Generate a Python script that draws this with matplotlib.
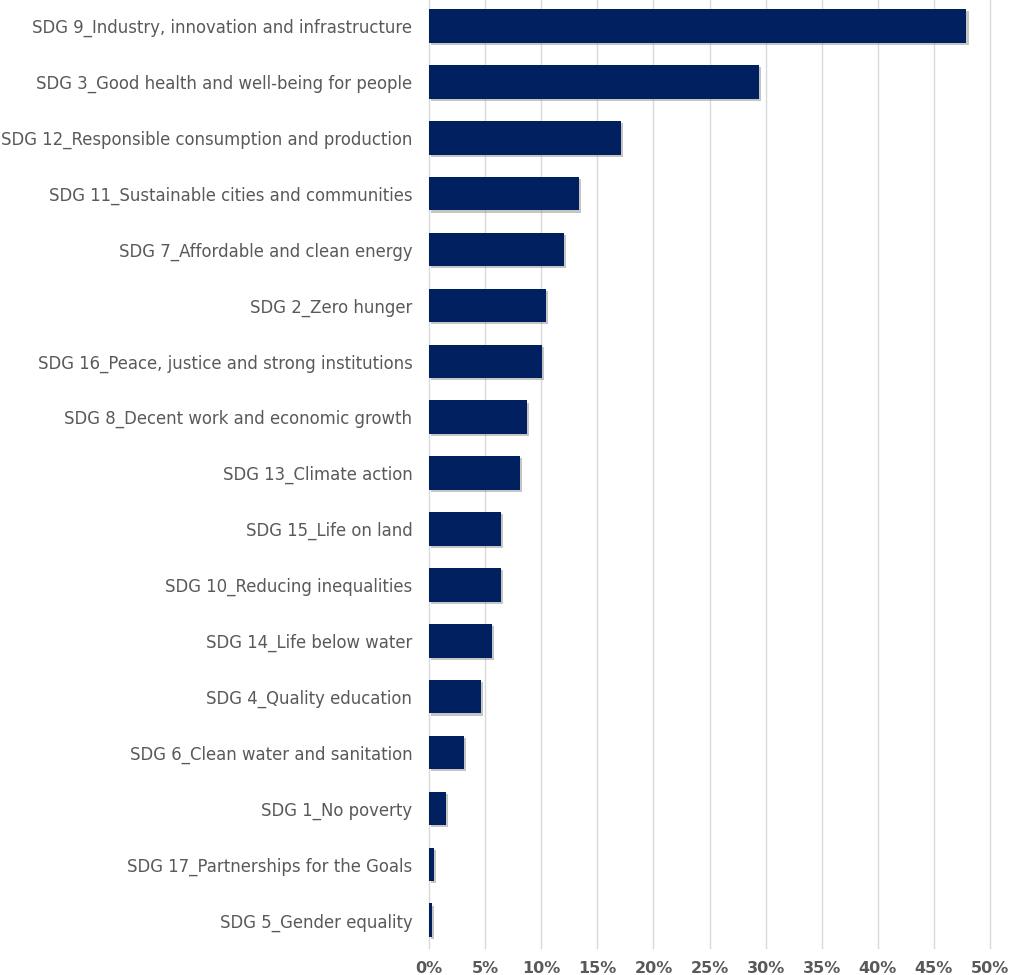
import matplotlib
matplotlib.use("Agg")
import matplotlib.pyplot as plt
import matplotlib.patheffects as pe
from matplotlib.ticker import PercentFormatter

# SDG shares, top to bottom as in the chart
categories = [
    "SDG 9_Industry, innovation and infrastructure",
    "SDG 3_Good health and well-being for people",
    "SDG 12_Responsible consumption and production",
    "SDG 11_Sustainable cities and communities",
    "SDG 7_Affordable and clean energy",
    "SDG 2_Zero hunger",
    "SDG 16_Peace, justice and strong institutions",
    "SDG 8_Decent work and economic growth",
    "SDG 13_Climate action",
    "SDG 15_Life on land",
    "SDG 10_Reducing inequalities",
    "SDG 14_Life below water",
    "SDG 4_Quality education",
    "SDG 6_Clean water and sanitation",
    "SDG 1_No poverty",
    "SDG 17_Partnerships for the Goals",
    "SDG 5_Gender equality",
]
shares = [47.9, 29.4, 17.1, 13.4, 12.0, 10.4, 10.1, 8.7, 8.1,
          6.4, 6.4, 5.6, 4.6, 3.15, 1.5, 0.45, 0.25]
xticks = list(range(0, 55, 5))

text_grey = "#595959"
bar_blue = "#002060"

plt.rcParams.update({"font.family": "DejaVu Sans", "font.size": 11})

fig = plt.figure(figsize=(10.09, 9.75), dpi=100)
ax = fig.add_axes([0.4252, 0.0275, 0.5560, 0.9745])

ypos = list(range(len(categories)))
bars = ax.barh(ypos, shares, height=0.6, color=bar_blue, zorder=3)
for b in bars:
    b.set_path_effects([pe.SimplePatchShadow(offset=(1.5, -1.5), shadow_rgbFace="#8c8c8c", alpha=0.5),
                        pe.Normal()])

ax.set_yticks(ypos)
ax.set_yticklabels(categories, color=text_grey, fontsize=11.9)
ax.set_ylim(len(categories) - 0.5, -0.5)

ax.set_xlim(0, 50)
ax.set_xticks(xticks)
ax.xaxis.set_major_formatter(PercentFormatter(decimals=0))
for lbl in ax.get_xticklabels():
    lbl.set_fontweight("bold")
    lbl.set_color(text_grey)
    lbl.set_fontsize(11.5)

ax.grid(axis="x", color="#d9d9d9", linewidth=1, zorder=0)
for gl in ax.get_xgridlines():
    gl.set_clip_on(False)
ax.tick_params(length=0, pad=9)
ax.tick_params(axis="y", pad=12)
for s in ax.spines.values():
    s.set_visible(False)

fig.savefig("out.png", dpi=100)
